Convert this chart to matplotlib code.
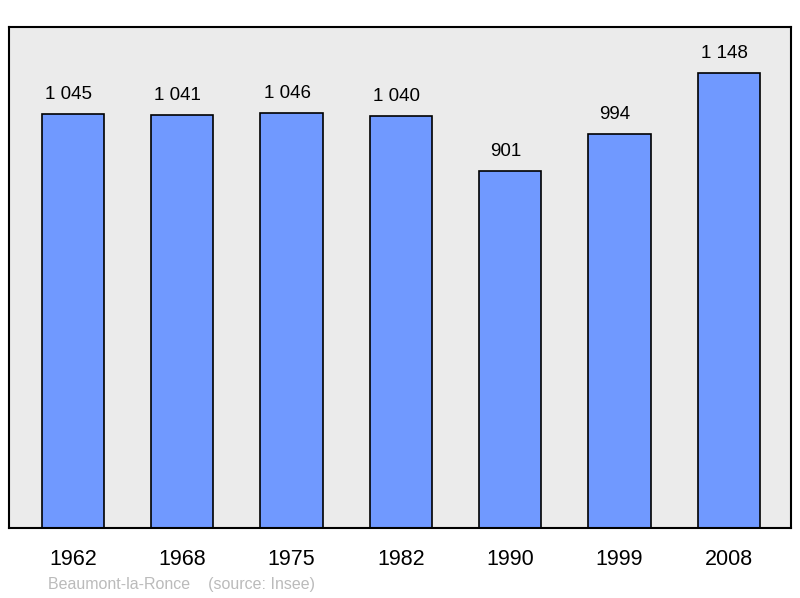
import matplotlib
matplotlib.use("Agg")
import matplotlib.pyplot as plt

years = ["1962", "1968", "1975", "1982", "1990", "1999", "2008"]
population = [1045, 1041, 1046, 1040, 901, 994, 1148]
labels = ["1 045", "1 041", "1 046", "1 040", "901", "994", "1 148"]

plt.rcParams['font.family'] = ['Liberation Sans', 'DejaVu Sans']
fig = plt.figure(figsize=(8, 5.98), dpi=100)
ax = fig.add_axes([9/800, 70/598, 782/800, 501/598])
ax.set_facecolor('#ebebeb')
x = list(range(len(years)))
ax.bar(x, population, width=0.57, color='#7099ff', edgecolor='black', linewidth=1.2, zorder=2)
for xi, v, l in zip(x, population, labels):
    ax.text(xi - 0.04, v + 28, l, ha='center', va='bottom', fontsize=13.5)
ax.set_xlim(-0.585, 6.57)
ax.set_ylim(0, 1264)
ax.set_yticks([])
ax.set_xticks(x)
ax.set_xticklabels(years, fontsize=15.5)
ax.tick_params(axis='x', length=0, pad=15)
for s in ax.spines.values():
    s.set_linewidth(1.5)
fig.text(48/800, 1 - 584/598, "Beaumont-la-Ronce    (source: Insee)", color='#bbbbbb', fontsize=11.5, va='center')
fig.savefig("out.png", dpi=100)
